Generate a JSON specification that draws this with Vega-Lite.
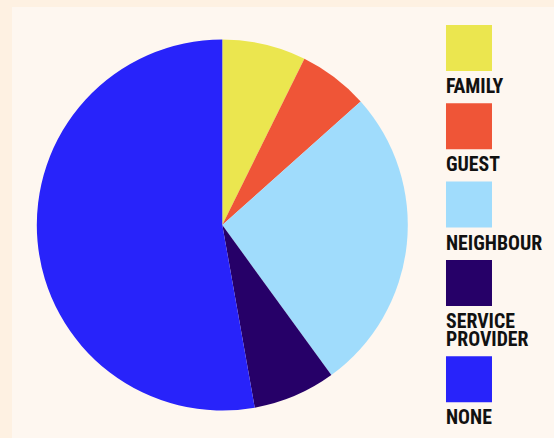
{
  "$schema": "https://vega.github.io/schema/vega-lite/v6.json",
  "autosize": {"type": "pad"},
  "width": 420.6,
  "height": 436,
  "padding": {"left": 12, "top": 7, "right": 0, "bottom": 0},
  "background": "#fef1e2",
  "view": {"fill": "#fef7f0", "stroke": null},
  "config": {
    "style": {"guide-label": {"dy": 45, "lineHeight": 18}}
  },
  "data": {
    "values": [
      {"idx": 1, "category": "FAMILY", "share": 7.3},
      {"idx": 2, "category": "GUEST", "share": 6.1},
      {"idx": 3, "category": "NEIGHBOUR", "share": 26.6},
      {"idx": 4, "category": "SERVICE PROVIDER", "share": 7.2},
      {"idx": 5, "category": "NONE", "share": 52.8}
    ]
  },
  "mark": {"type": "arc", "outerRadius": 185.5, "stroke": null},
  "encoding": {
    "theta": {"field": "share", "type": "quantitative", "stack": true},
    "order": {"field": "idx", "type": "quantitative"},
    "color": {
      "field": "category",
      "type": "nominal",
      "sort": null,
      "scale": {
        "domain": ["FAMILY", "GUEST", "NEIGHBOUR", "SERVICE PROVIDER", "NONE"],
        "range": ["#ebe64f", "#ef5537", "#a0dcfc", "#260068", "#2823fa"]
      },
      "legend": {
        "orient": "none",
        "legendX": 416,
        "legendY": 0,
        "padding": 18,
        "fillColor": "#fef7f0",
        "title": null,
        "symbolType": "square",
        "symbolSize": 2116,
        "symbolStrokeWidth": 0,
        "symbolOpacity": 1,
        "labelOffset": -46,
        "labelAlign": "left",
        "labelBaseline": "alphabetic",
        "labelFont": "Roboto Condensed, Roboto",
        "labelFontSize": 19.8,
        "labelFontWeight": "bold",
        "labelColor": "#111111",
        "labelLimit": 200,
        "labelExpr": "split(datum.label, ' ')",
        "rowPadding": 6.3
      }
    }
  }
}
